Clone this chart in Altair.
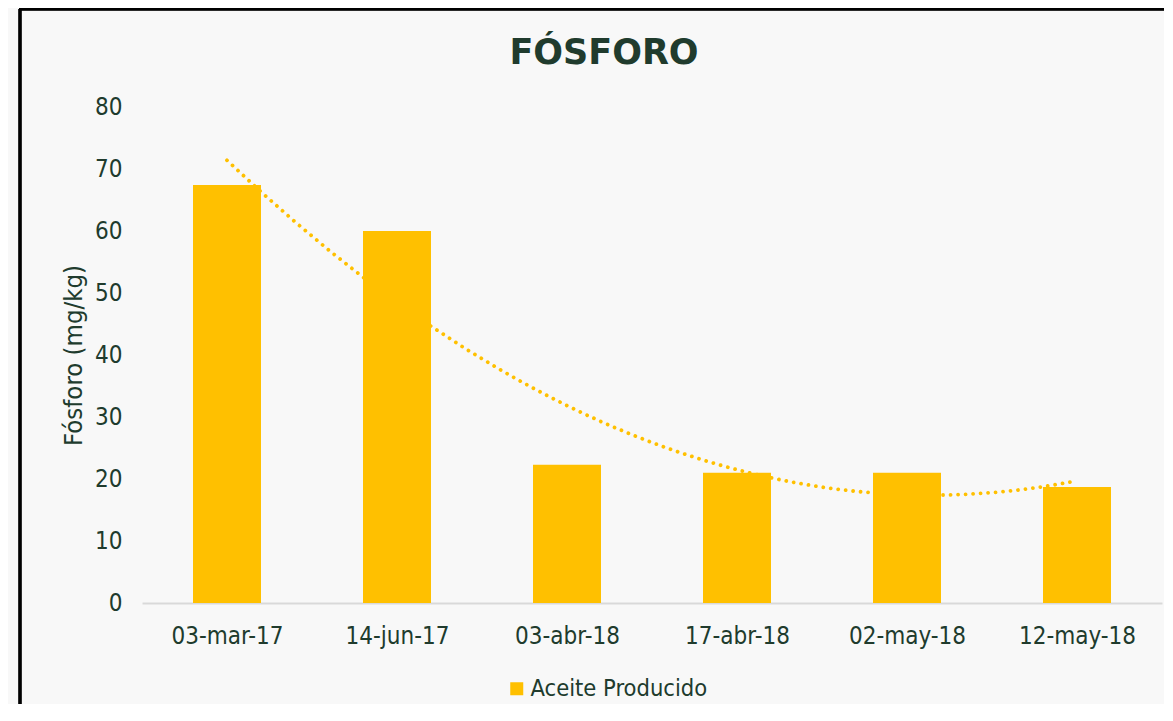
import json
import altair as alt
import pandas as pd

# ---- data ----
fechas = ["03-mar-17", "14-jun-17", "03-abr-18", "17-abr-18", "02-may-18", "12-may-18"]
fosforo = [67.4, 60.0, 22.3, 21.0, 21.0, 18.7]
serie = "Aceite Producido"
y_ticks = [0, 10, 20, 30, 40, 50, 60, 70, 80]

df = pd.DataFrame({"fecha": fechas, "valor": fosforo, "serie": [serie] * len(fechas)})

TEXT = "#203B2D"
GOLD = "#FFC000"
FONT = "DejaVu Sans Condensed, DejaVu Sans"

label_expr = json.dumps(fechas) + "[datum.value - 1]"

base = alt.Chart(df).transform_window(idx="row_number()")

x_enc = alt.X(
    "idx:Q",
    scale=alt.Scale(domain=[0.5, 6.5], nice=False, zero=False, padding=0),
    axis=alt.Axis(
        values=[1, 2, 3, 4, 5, 6],
        labelExpr=label_expr,
        title=None,
        grid=False,
        ticks=False,
        domainColor="#D9D9D9",
        domainWidth=2,
        labelPadding=21,
        labelFontSize=24,
        labelColor=TEXT,
        labelFont=FONT,
    ),
)

y_enc = alt.Y(
    "valor:Q",
    scale=alt.Scale(domain=[0, 80], nice=False),
    axis=alt.Axis(
        values=y_ticks,
        title="Fósforo (mg/kg)",
        grid=False,
        ticks=False,
        domain=False,
        labelPadding=20,
        labelFontSize=24,
        labelColor=TEXT,
        labelFont=FONT,
        titleFontSize=25.5,
        titleFont=FONT,
        titleFontWeight="normal",
        titleColor=TEXT,
        titleX=-69,
        titleY=248,
        titleAngle=-90,
        titleAlign="center",
        titleBaseline="middle",
    ),
)

bars = base.mark_bar(size=68).encode(
    x=x_enc,
    y=y_enc,
    color=alt.Color(
        "serie:N",
        scale=alt.Scale(range=[GOLD]),
        legend=alt.Legend(
            title=None,
            orient="none",
            legendX=363,
            legendY=570,
            symbolType="square",
            symbolSize=169,
            symbolStrokeWidth=0,
            labelFontSize=23.5,
            labelFont=FONT,
            labelColor=TEXT,
            labelOffset=2,
            labelLimit=0,
            padding=0,
        ),
    ),
)

trend = (
    base.transform_regression("idx", "valor", method="poly", order=2)
    .mark_line(color=GOLD, strokeWidth=3.8, strokeDash=[0.01, 7.5], strokeCap="round")
    .encode(x="idx:Q", y="valor:Q")
)

# chart-area border (left and top edges; the others fall outside the picture)
frame_left = alt.Chart(df).mark_rule(color="black", strokeWidth=2.5).encode(
    x=alt.value(-122), y=alt.value(-98), y2=alt.value(640)
)
frame_top = alt.Chart(df).mark_rule(color="black", strokeWidth=2.5).encode(
    x=alt.value(-123), x2=alt.value(1100), y=alt.value(-98)
)

chart = (
    alt.layer(frame_left, frame_top, bars, trend)
    .properties(
        width=1020,
        height=496,
        autosize=alt.AutoSizeParams(type="none"),
        padding={"left": 134, "top": 99, "right": 2, "bottom": 101},
        background="#F8F8F8",
        title=alt.TitleParams(
            "FÓSFORO",
            fontSize=35,
            font="DejaVu Sans",
            fontWeight="bold",
            color=TEXT,
            anchor="middle",
            dx=-48,
            dy=133,
            offset=42,
            baseline="alphabetic",
        ),
    )
    .configure_view(stroke=None)
)

chart.save("out.html", embed_options={"renderer": "svg", "actions": False})
